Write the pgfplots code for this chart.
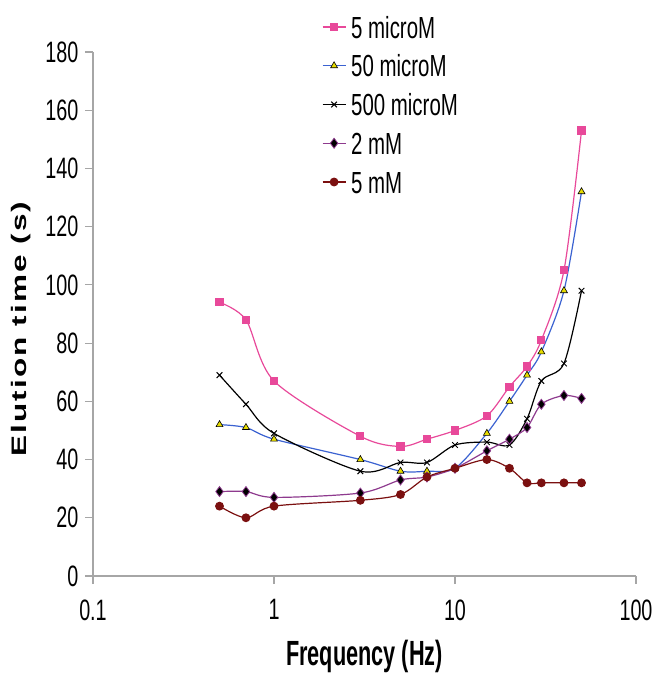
\documentclass[border=0pt]{standalone}
\usepackage{fontspec}
\usepackage{pgfplots}
\pgfplotsset{compat=1.18}
\setmainfont{Liberation Sans}
\newfontfamily\tickfont{Liberation Sans}[FakeStretch=0.67]
\newfontfamily\xlabfont{Liberation Sans}[FakeStretch=0.62]
\newfontfamily\ylabfont{Liberation Sans}[FakeStretch=1.5,LetterSpace=10]

\definecolor{cPink}{HTML}{E8499A}
\definecolor{cBlue}{HTML}{3B62D1}
\definecolor{cYellow}{HTML}{E6DC00}
\definecolor{cPurple}{HTML}{8E3A8E}
\definecolor{cDarkRed}{HTML}{7B1010}
\definecolor{cAxis}{HTML}{A6A6A6}

% frequency (Hz) vs elution time (s)
\pgfplotstableread{
f     s5u   s50u  s500u  s2m   s5m
0.5   94    52    69     29    24
0.7   88    51    59     29    20
1     67    47    49     27    24
3     48    40    36     28.5  26
5     44.5  36    39     33    28
7     47    36    39     34    34
10    50    37    45     37    37
15    55    49    46     43    40
20    65    60    45     47    37
25    72    69    54     51    32
30    81    77    67     59    32
40    105   98    73     62    32
50    153   132   98     61    32
}\elution

\begin{document}
\begin{tikzpicture}
\begin{axis}[
  name=ax,
  scale only axis,
  width=543pt, height=524pt,
  xmode=log, log basis x=10,
  xmin=0.1, xmax=100,
  ymin=0, ymax=180,
  xtick={0.1,1,10,100},
  xticklabels={0.1,1,10,100},
  xminorticks=false,
  ytick={0,20,...,180},
  axis x line*=bottom,
  axis y line*=left,
  axis line style={cAxis, line width=1.2pt, -},
  tick style={cAxis, line width=1.2pt},
  tick align=outside,
  major tick length=8pt,
  /pgf/number format/assume math mode=true,
  tick label style={font=\tickfont\fontsize{29.5}{30}\selectfont, text=black},
  xticklabel style={yshift=-12pt},
  yticklabel style={xshift=-3pt},
  xlabel={\xlabfont\bfseries Frequency (Hz)},
  xlabel style={at={(axis description cs:0.5,-0.170)}, anchor=base, font=\fontsize{35}{36}\selectfont},
  ylabel={\ylabfont\bfseries Elution time (s)},
  ylabel style={at={(axis description cs:-0.1326,0.4714)}, anchor=center, font=\fontsize{21}{22}\selectfont},
  legend style={
    at={(axis description cs:0.4217,1.0687)}, anchor=north west,
    draw=none, fill=none, inner sep=0pt, outer sep=0pt,
    font=\tickfont\fontsize{30.5}{31}\selectfont,
    nodes={inner sep=0pt, text height=22pt, text depth=0pt},
    row sep=16.75pt, column sep=5pt,
  },
  legend cell align=left,
  legend image code/.code={
    \draw[mark repeat=2, mark phase=2, #1] plot coordinates {(0pt,0pt) (11.5pt,0pt) (23pt,0pt)};
  },
  every axis plot/.append style={line width=1.2pt, smooth, tension=0.5},
]
\addplot[color=cPink, mark=square*, mark size=3.5pt, mark options={fill=cPink, draw=cPink}]
  table[x=f, y=s5u]{\elution};
\addlegendentry{5 microM}
\addplot[color=cBlue, mark=triangle*, mark size=4pt, mark options={fill=cYellow, draw=black, line width=0.6pt}]
  table[x=f, y=s50u]{\elution};
\addlegendentry{50 microM}
\addplot[color=black, mark=x, mark size=4pt, mark options={draw=black, line width=1pt}]
  table[x=f, y=s500u]{\elution};
\addlegendentry{500 microM}
\addplot[color=cPurple, mark=diamond*, mark size=5pt, mark options={fill=black, draw=cPurple, line width=0.8pt}]
  table[x=f, y=s2m]{\elution};
\addlegendentry{2 mM}
\addplot[color=cDarkRed, mark=*, mark size=3.8pt, mark options={fill=cDarkRed, draw=cDarkRed}]
  table[x=f, y=s5m]{\elution};
\addlegendentry{5 mM}
\end{axis}
\pgfresetboundingbox
\path ([xshift=-93pt,yshift=-107pt]ax.south west) rectangle ([xshift=562pt,yshift=576pt]ax.south west);
\end{tikzpicture}
\end{document}
